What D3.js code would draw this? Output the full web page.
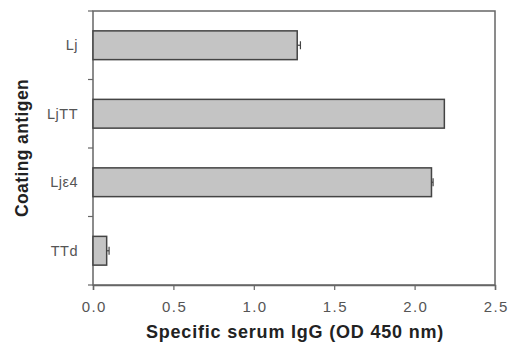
<!DOCTYPE html>
<html>
<head>
<meta charset="utf-8">
<script src="https://cdn.jsdelivr.net/npm/d3@7"></script>
<style>
  body { margin: 0; background: #fff; }
  svg { display: block; }
  text { font-family: "Liberation Sans", Arial, sans-serif; }
</style>
</head>
<body>
<svg id="chart" width="512" height="350"></svg>
<script>
// Specific serum IgG by coating antigen
const categories = ["Lj", "LjTT", "Ljε4", "TTd"];
const values = [1.27, 2.185, 2.105, 0.085];
const errors = [0.02, 0.0, 0.01, 0.015];
const xTicks = [0, 0.5, 1.0, 1.5, 2.0, 2.5];

const margin = { top: 11, right: 17, bottom: 65, left: 93 };
const width = 512, height = 350;
const svg = d3.select("#chart");

const x = d3.scaleLinear().domain([0, 2.5]).range([margin.left, width - margin.right]);
const y = d3.scaleBand().domain(categories)
  .range([margin.top, height - margin.bottom])
  .paddingInner(0.58).paddingOuter(0.29);

const plotTop = margin.top, plotBottom = height - margin.bottom;

// Plot frame
svg.append("rect")
  .attr("x", x(0)).attr("y", plotTop)
  .attr("width", x(2.5) - x(0)).attr("height", plotBottom - plotTop)
  .attr("fill", "none").attr("stroke", "#666").attr("stroke-width", 1.5);

// Bars
svg.append("g").selectAll("rect").data(categories).join("rect")
  .attr("x", x(0))
  .attr("y", d => y(d))
  .attr("width", (d, i) => x(values[i]) - x(0))
  .attr("height", y.bandwidth())
  .attr("fill", "#c4c4c4")
  .attr("stroke", "#444")
  .attr("stroke-width", 1.5);

// Error bars (positive side)
const eb = svg.append("g").attr("stroke", "#444").attr("stroke-width", 1.2);
categories.forEach((c, i) => {
  if (errors[i] <= 0) return;
  const cy = y(c) + y.bandwidth() / 2;
  eb.append("line").attr("x1", x(values[i])).attr("x2", x(values[i] + errors[i]))
    .attr("y1", cy).attr("y2", cy);
  eb.append("line").attr("x1", x(values[i] + errors[i])).attr("x2", x(values[i] + errors[i]))
    .attr("y1", cy - 4).attr("y2", cy + 4);
});

// X axis
const xAxis = svg.append("g")
  .attr("transform", `translate(0,${plotBottom})`)
  .call(d3.axisBottom(x).tickValues(xTicks).tickFormat(d3.format(".1f")).tickSize(5).tickPadding(17));
xAxis.select(".domain").attr("stroke", "#666").attr("stroke-width", 1.5);
xAxis.selectAll(".tick line").attr("stroke", "#666").attr("stroke-width", 1.2);
xAxis.selectAll(".tick text")
  .attr("font-size", 15).attr("fill", "#555")
  .attr("dy", "0.35em")
  .attr("dx", 0.7)
  .style("letter-spacing", "1.4px")
  .style("font-family", '"Liberation Sans", Arial, sans-serif');

// Y axis: labels at band centres, ticks at band boundaries
const yAxis = svg.append("g").attr("transform", `translate(${x(0)},0)`);
const boundaries = d3.range(categories.length + 1).map(i => plotTop + i * y.step());
yAxis.selectAll("line.bnd").data(boundaries).join("line")
  .attr("class", "bnd")
  .attr("x1", -5).attr("x2", 0).attr("y1", d => d).attr("y2", d => d)
  .attr("stroke", "#666").attr("stroke-width", 1.2);
yAxis.selectAll("text").data(categories).join("text")
  .attr("x", -15)
  .attr("y", d => y(d) + y.bandwidth() / 2)
  .attr("dy", "0.35em")
  .attr("text-anchor", "end")
  .attr("font-size", 14.5)
  .attr("fill", "#555")
  .style("letter-spacing", "0.5px")
  .text(d => d);

// Axis titles
svg.append("text")
  .attr("x", 295).attr("y", 338)
  .attr("text-anchor", "middle")
  .attr("font-size", 18).attr("font-weight", "bold").attr("fill", "#222")
  .style("letter-spacing", "0.8px")
  .text("Specific serum IgG (OD 450 nm)");

svg.append("text")
  .attr("transform", `translate(28,${(plotTop + plotBottom) / 2}) rotate(-90)`)
  .attr("text-anchor", "middle")
  .attr("font-size", 17.5).attr("font-weight", "bold").attr("fill", "#222")
  .style("letter-spacing", "0.4px")
  .text("Coating antigen");
</script>
</body>
</html>
